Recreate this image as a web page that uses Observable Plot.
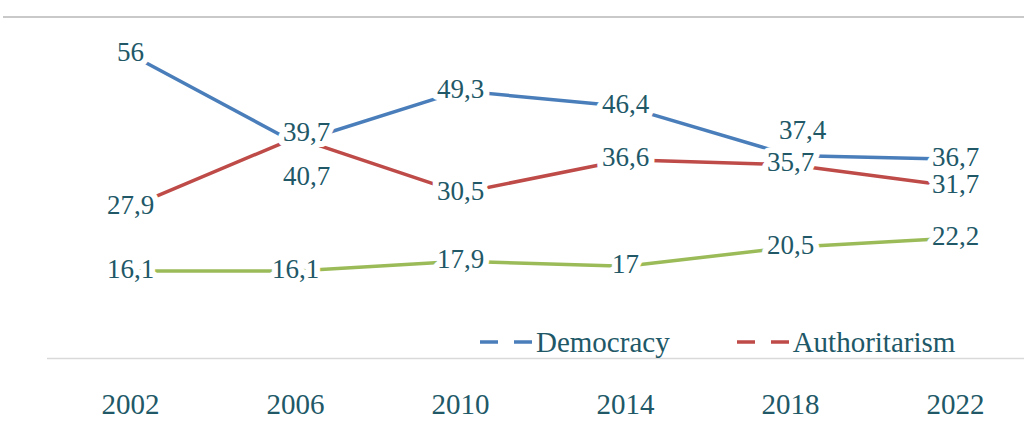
<!DOCTYPE html>
<html>
<head>
<meta charset="utf-8">
<script src="https://cdn.jsdelivr.net/npm/d3@7"></script>
<script src="https://cdn.jsdelivr.net/npm/@observablehq/plot@0.6"></script>
<style>
  html, body { margin: 0; padding: 0; background: white; }
  #wrap { position: relative; width: 1024px; height: 422px; overflow: hidden; font-family: "Liberation Serif", Tinos, "Times New Roman", serif; }
  #topline { position: absolute; left: 3px; top: 16px; width: 1021px; height: 1.5px; background: #c9c9c9; }
  #legend { position: absolute; left: 480px; top: 325px; display: flex; gap: 67px; font-size: 29px; line-height: 34px; color: #215867; }
  .item { display: flex; align-items: center; gap: 2px; }
</style>
</head>
<body>
<div id="wrap"><div id="topline"></div><div id="legend"></div></div>
<script>
// ---- data ----
const years = ["2002", "2006", "2010", "2014", "2018", "2022"];
const democracy = [56, 39.7, 49.3, 46.4, 37.4, 36.7];
const authoritarism = [27.9, 40.7, 30.5, 36.6, 35.7, 31.7];
const other = [16.1, 16.1, 17.9, 17, 20.5, 22.2];
const seriesNames = ["Democracy", "Authoritarism", "Other"];
const legendNames = ["Democracy", "Authoritarism"];

// ---- styles ----
const fontStack = '"Liberation Serif", Tinos, "Times New Roman", serif';
const colors = ["#4A7EBB", "#BE4B48", "#9BBB59"];
const textColor = "#215867";
const valuesBySeries = [democracy, authoritarism, other];
const rows = seriesNames.flatMap((s, i) => years.map((y, j) => ({series: s, year: y, value: valuesBySeries[i][j]})));
const fmt = v => String(v).replace(".", ",");
// label nudges (pixel offsets) for labels Excel moved off their points
const nudges = {"Democracy|2006": [11, -11], "Authoritarism|2006": [11, 39], "Democracy|2018": [12, -25]};
const key = d => d.series + "|" + d.year;

const labelOpts = {x: "year", y: "value", text: d => fmt(d.value), fill: textColor, stroke: "white", strokeWidth: 12, fontSize: 27, fontFamily: fontStack};

const marks = [
  Plot.ruleY([0], {stroke: "#d9d9d9", strokeWidth: 1.5}),
  Plot.line(rows, {x: "year", y: "value", z: "series", stroke: "series", strokeWidth: 3.5}),
  Plot.text(rows, {...labelOpts, dy: -2, filter: d => !(key(d) in nudges)})
];
for (const [k, [dx, dy]] of Object.entries(nudges)) {
  marks.push(Plot.text(rows, {...labelOpts, dx, dy, filter: d => key(d) === k}));
}
marks.push(Plot.axisX({tickSize: 0, tickPadding: 35, fontSize: 29, color: textColor, fontFamily: fontStack}));

const chart = Plot.plot({
  width: 1024,
  height: 422,
  marginLeft: 47,
  marginRight: 0,
  marginTop: 16,
  marginBottom: 64,
  style: {fontFamily: fontStack, background: "transparent", color: textColor, overflow: "visible"},
  x: {type: "point", domain: years, range: [130, 955], padding: 0, label: null},
  y: {domain: [0, 63], range: [358, 16], axis: null},
  color: {domain: seriesNames, range: colors},
  marks
});
const wrap = document.getElementById("wrap");
wrap.insertBefore(chart, wrap.firstChild);
chart.style.position = "absolute";
chart.style.left = "0";
chart.style.top = "0";

const legend = document.getElementById("legend");
legendNames.forEach(name => {
  const c = colors[seriesNames.indexOf(name)];
  const item = document.createElement("div");
  item.className = "item";
  item.innerHTML = `<svg width="54" height="6"><line x1="0" y1="3" x2="54" y2="3" stroke="${c}" stroke-width="3.5" stroke-dasharray="18 16"/></svg><span>${name}</span>`;
  legend.appendChild(item);
});
</script>
</body>
</html>
